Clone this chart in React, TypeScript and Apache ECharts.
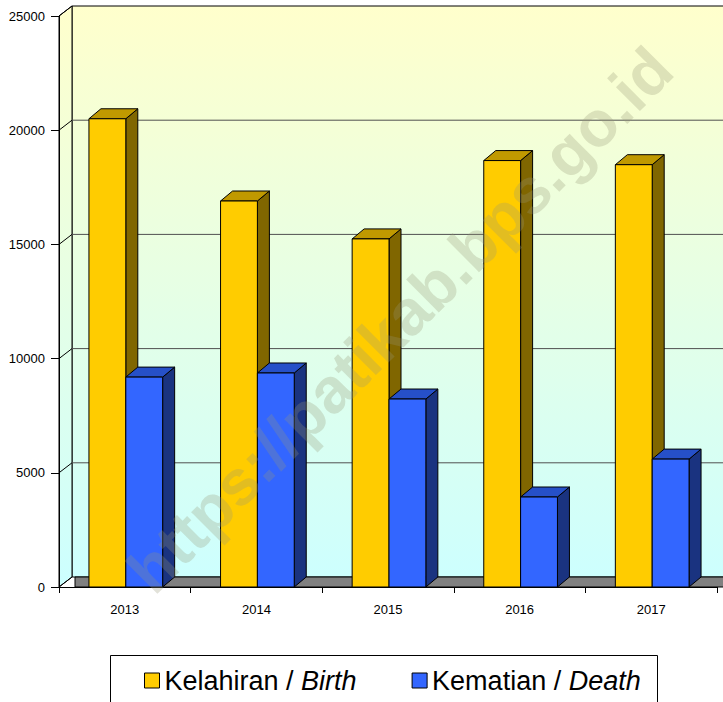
import React, { useEffect, useRef } from "react";
import * as echarts from "echarts";

const categories = ["2013", "2014", "2015", "2016", "2017"];
const birth = [20500, 16900, 15240, 18670, 18490];
const death = [9190, 9370, 8230, 3940, 5600];
const seriesNames = ["Kelahiran / Birth", "Kematian / Death"];
const gridValues = [0, 5000, 10000, 15000, 20000, 25000];

const FONT = "Liberation Sans, Arial, sans-serif";
const WDX = 13; // wall depth
const WDY = 10;
const BDX = 12; // bar depth
const BDY = 10;

const colors = [
  { front: "#FFCC00", top: "#C09900", side: "#806600" },
  { front: "#3366FF", top: "#2650C8", side: "#1A3380" },
];

function makeBarRender(seriesIdx: number) {
  return (params: any, api: any) => {
    const cat = api.value(0);
    const val = api.value(1);
    const [xc, yv] = api.coord([cat, val]);
    const [, y0] = api.coord([cat, 0]);
    const band = api.size([1, 0])[0];
    const bw = band * 0.28;
    const x0 = seriesIdx === 0 ? xc - bw + 1 : xc + 1;
    const c = colors[seriesIdx];
    const stroke = { stroke: "#000", lineWidth: 1 };
    return {
      type: "group",
      children: [
        {
          type: "polygon",
          shape: {
            points: [
              [x0 + bw, yv],
              [x0 + bw + BDX, yv - BDY],
              [x0 + bw + BDX, y0 - BDY],
              [x0 + bw, y0],
            ],
          },
          style: { fill: c.side, ...stroke },
        },
        {
          type: "polygon",
          shape: {
            points: [
              [x0, yv],
              [x0 + BDX, yv - BDY],
              [x0 + bw + BDX, yv - BDY],
              [x0 + bw, yv],
            ],
          },
          style: { fill: c.top, ...stroke },
        },
        {
          type: "rect",
          shape: { x: x0, y: yv, width: bw, height: y0 - yv },
          style: { fill: c.front, ...stroke },
        },
      ],
    };
  };
}

function renderWalls(params: any, api: any) {
  const cs = params.coordSys;
  const left = cs.x;
  const top = cs.y;
  const right = cs.x + cs.width;
  const bottom = cs.y + cs.height;
  const grad = new echarts.graphic.LinearGradient(
    0,
    top - WDY,
    0,
    bottom,
    [
      { offset: 0, color: "#FFFFCC" },
      { offset: 1, color: "#CCFFFF" },
    ],
    true
  );
  const children: any[] = [];
  children.push({
    type: "rect",
    shape: { x: left + WDX, y: top - WDY, width: cs.width + 20, height: cs.height },
    style: { fill: grad, stroke: "#000", lineWidth: 1 },
  });
  children.push({
    type: "polygon",
    shape: {
      points: [
        [left, bottom],
        [left, top],
        [left + WDX, top - WDY],
        [left + WDX, bottom - WDY],
      ],
    },
    style: { fill: grad, stroke: "#000", lineWidth: 1 },
  });
  gridValues.forEach((v) => {
    const y = api.coord([0, v])[1];
    if (v > 0 && v < 25000) {
      children.push({
        type: "line",
        shape: { x1: left + WDX, y1: y - WDY, x2: right + WDX + 20, y2: y - WDY },
        style: { stroke: "#505050", lineWidth: 1 },
      });
    }
    children.push({
      type: "line",
      shape: { x1: left, y1: y, x2: left + WDX, y2: y - WDY },
      style: { stroke: "#000", lineWidth: 1 },
    });
  });
  children.push({
    type: "polygon",
    shape: {
      points: [
        [left + 16, bottom],
        [left + 16, bottom - WDY],
        [right + WDX + 20, bottom - WDY],
        [right + 20, bottom],
      ],
    },
    style: { fill: "#808080", stroke: "#000", lineWidth: 1 },
  });
  return { type: "group", children };
}

export default function App() {
  const ref = useRef<HTMLDivElement>(null);
  useEffect(() => {
    if (!ref.current) return;
    const chart = echarts.init(ref.current, null, { renderer: "svg" });
    const option: any = {
      animation: false,
      backgroundColor: "#fff",
      grid: { left: 59, top: 16, width: 658, height: 571, containLabel: false },
      xAxis: {
        type: "category",
        data: categories,
        axisLine: { show: true, lineStyle: { color: "#000", width: 1 } },
        axisTick: { show: true, length: 6, lineStyle: { color: "#000" } },
        axisLabel: { fontSize: 13, color: "#000", margin: 16, fontFamily: FONT },
        splitLine: { show: false },
        z: 5,
      },
      yAxis: {
        type: "value",
        min: 0,
        max: 25000,
        interval: 5000,
        axisLine: { show: true, lineStyle: { color: "#000", width: 1 } },
        axisTick: { show: true, length: 8, lineStyle: { color: "#000" } },
        axisLabel: {
          fontSize: 13,
          color: "#000",
          margin: 14,
          fontFamily: FONT,
          formatter: (v: number) => String(v),
        },
        splitLine: { show: false },
        z: 5,
      },
      legend: {
        data: seriesNames,
        left: 139,
        top: 662,
        itemWidth: 15,
        itemHeight: 15,
        itemGap: 55,
        icon: "rect",
        itemStyle: { borderColor: "#000", borderWidth: 1 },
        z: 10,
        formatter: (name: string) => {
          const [a, b] = name.split(" / ");
          return `{n|${a} / }{i|${b}}`;
        },
        textStyle: {
          color: "#000",
          fontSize: 27,
          fontFamily: FONT,
          rich: {
            n: { fontSize: 27, fontFamily: FONT, color: "#000", lineHeight: 28 },
            i: { fontSize: 27, fontFamily: FONT, color: "#000", fontStyle: "italic", lineHeight: 28 },
          },
        },
      },
      graphic: [
        {
          type: "rect",
          z: 1,
          shape: { x: 110.5, y: 655.5, width: 547, height: 60 },
          style: { fill: "#fff", stroke: "#000", lineWidth: 1 },
        },
        {
          type: "text",
          z: 100,
          x: 400,
          y: 320,
          rotation: Math.PI / 4,
          silent: true,
          style: {
            text: "https://patikab.bps.go.id",
            fontSize: 64,
            fontWeight: "bold",
            fontFamily: FONT,
            fill: "rgba(150,150,120,0.28)",
            align: "center",
            verticalAlign: "middle",
          },
        },
      ],
      series: [
        {
          type: "custom",
          name: "walls",
          z: 0,
          silent: true,
          renderItem: renderWalls,
          data: [[0, 0]],
          encode: { x: 0, y: 1 },
        },
        {
          type: "custom",
          name: seriesNames[0],
          z: 2,
          itemStyle: { color: colors[0].front },
          renderItem: makeBarRender(0),
          data: birth.map((v, i) => [i, v]),
          encode: { x: 0, y: 1 },
        },
        {
          type: "custom",
          name: seriesNames[1],
          z: 3,
          itemStyle: { color: colors[1].front },
          renderItem: makeBarRender(1),
          data: death.map((v, i) => [i, v]),
          encode: { x: 0, y: 1 },
        },
      ],
    };
    chart.setOption(option);
    return () => chart.dispose();
  }, []);
  return (
    <div
      ref={ref}
      style={{ position: "absolute", left: 0, top: 0, width: 723, height: 702 }}
    />
  );
}
